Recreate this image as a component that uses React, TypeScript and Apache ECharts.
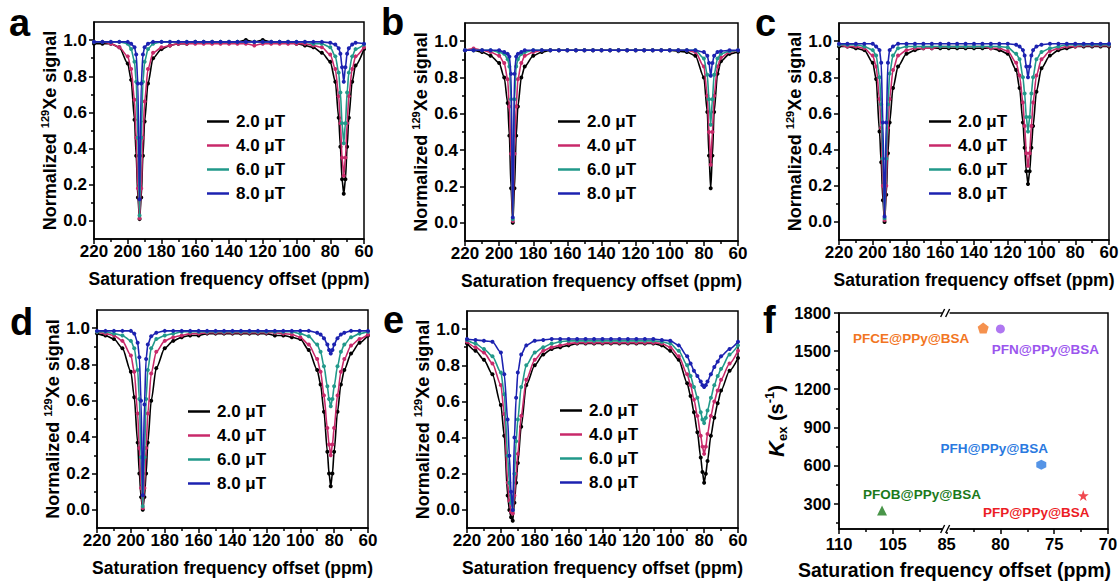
import React, { useEffect, useRef } from 'react';
import * as echarts from 'echarts';

const FONT = '"Liberation Sans", Arial, Helvetica, sans-serif';

// ---------- shared labels ----------
const FIELD_NAMES = ['2.0 μT', '4.0 μT', '6.0 μT', '8.0 μT'];
const FIELD_COLORS = ['#000000', '#c8296a', '#21998a', '#1c22b0'];
const X_TICK_LABELS = [60, 80, 100, 120, 140, 160, 180, 200, 220];
const X_MINOR_TICKS = [70, 90, 110, 130, 150, 170, 190, 210];
const Y_TICK_LABELS = [0, 0.2, 0.4, 0.6, 0.8, 1.0];
const Y_MINOR_TICKS = [0.1, 0.3, 0.5, 0.7, 0.9];

// ---------- panel a ----------
const xA = [220,215,210,205,200,198,196,195,194,193,192,191,190,188,185,180,175,170,165,160,155,150,145,140,135,130,125,120,115,110,105,100,95,90,85,80,77,75,74,73,72,71,70,69,67,65,60];
const aBlack = [0.98,0.98,0.98,0.96,0.87, 0.78,0.56,0.36,0.13,0.01,0.13,0.36,0.55,0.76, 0.90,0.95,0.97,0.98,0.98,0.99,0.99,0.99,0.99,0.99, 0.99,1.00,0.99,1.00,0.99,0.99,0.99,0.98,0.97,0.96, 0.93,0.88, 0.77,0.57,0.41,0.23,0.15,0.23,0.41,0.57,0.77,0.86,0.95];
const aPink = [0.99,0.99,0.98,0.96,0.91, 0.84,0.67,0.46,0.18,0.015,0.18,0.46,0.66,0.84, 0.93,0.96,0.97,0.98,0.98,0.98,0.98,0.98,0.98,0.98, 0.98,0.98,0.97,0.98,0.98,0.98,0.98,0.98,0.98,0.97, 0.96,0.92, 0.84,0.69,0.54,0.35,0.25,0.35,0.54,0.69,0.84,0.91,0.96];
const aTeal = [0.99,0.99,0.99,0.99,0.98, 0.95,0.88,0.77,0.46,0.03,0.46,0.77,0.88,0.95, 0.98,0.99,0.99,0.99,0.99,0.99,0.99,0.99,0.99,0.99, 0.99,0.99,0.99,0.99,0.99,0.99,0.99,0.99,0.99,0.98, 0.98,0.96, 0.91,0.82,0.71,0.54,0.43,0.54,0.71,0.82,0.91,0.95,0.975];
const aBlue = [0.99,0.99,0.99,0.99,0.99, 0.98,0.96,0.92,0.76,0.12,0.76,0.92,0.96,0.98, 0.99,0.99,0.99,0.99,0.99,0.99,0.99,0.99,0.99,0.99, 0.99,0.99,0.99,0.99,0.99,0.99,0.99,0.99,0.99,0.99, 0.99,0.985, 0.975,0.955,0.925,0.85,0.77,0.85,0.925,0.955,0.975,0.985,0.98];

// ---------- panel b ----------
const xB = [220,215,210,205,200,197,195,194,193,192,191,190,189,187,185,180,175,170,165,160,155,150,145,140,135,130,125,120,115,110,105,100,95,90,85,80,78,77,76,75,74,72,70,65,60];
const bBlack = [0.95,0.95,0.94,0.92,0.88, 0.80,0.66,0.48,0.19,0.00,0.19,0.48,0.64,0.80, 0.86,0.92,0.94,0.95,0.95,0.95,0.95,0.95,0.95,0.95, 0.95,0.95,0.95,0.95,0.95,0.95,0.95,0.95,0.945,0.94, 0.92, 0.80,0.61,0.37,0.19,0.37,0.61,0.82,0.89,0.93,0.94];
const bPink = [0.95,0.96,0.95,0.94,0.92, 0.88,0.79,0.64,0.38,0.01,0.38,0.64,0.79,0.88, 0.92,0.94,0.95,0.95,0.95,0.95,0.95,0.95,0.95,0.95, 0.95,0.95,0.95,0.95,0.95,0.95,0.95,0.95,0.95,0.95, 0.94, 0.86,0.70,0.50,0.32,0.50,0.70,0.86,0.91,0.94,0.95];
const bTeal = [0.95,0.95,0.95,0.95,0.94, 0.93,0.90,0.86,0.68,0.02,0.68,0.86,0.90,0.93, 0.94,0.95,0.95,0.95,0.95,0.95,0.95,0.95,0.95,0.95, 0.95,0.95,0.95,0.95,0.95,0.95,0.95,0.95,0.95,0.95, 0.95, 0.905,0.815,0.68,0.54,0.68,0.815,0.905,0.93,0.945,0.95];
const bBlue = [0.95,0.95,0.95,0.95,0.95, 0.94,0.93,0.915,0.82,0.03,0.82,0.915,0.93,0.94, 0.95,0.95,0.95,0.95,0.95,0.95,0.95,0.95,0.95,0.95, 0.95,0.95,0.95,0.95,0.95,0.95,0.95,0.95,0.95,0.95, 0.95, 0.94,0.92,0.88,0.81,0.88,0.92,0.94,0.945,0.95,0.95];

// ---------- panel c ----------
const xC = [220,215,210,205,200,198,196,195,194,193,192,191,190,188,185,180,175,170,165,160,155,150,145,140,135,130,125,120,115,113,111,110,109,108,107,106,105,103,100,95,90,85,80,75,70,65,60];
const cBlack = [0.97,0.97,0.96,0.95,0.88, 0.79,0.50,0.33,0.12,0.00,0.15,0.38,0.55,0.74, 0.86,0.93,0.95,0.96,0.96,0.96,0.96,0.96,0.96,0.96, 0.96,0.96,0.95,0.93,0.84, 0.74,0.55,0.41,0.28,0.21,0.28,0.41,0.53,0.72, 0.85,0.92,0.95,0.96,0.97,0.97,0.97,0.97,0.97];
const cPink = [0.98,0.97,0.97,0.96,0.92, 0.86,0.68,0.52,0.20,0.01,0.20,0.52,0.68,0.84, 0.92,0.95,0.96,0.96,0.96,0.97,0.97,0.97,0.97,0.97, 0.97,0.96,0.96,0.945,0.88, 0.81,0.66,0.53,0.38,0.31,0.38,0.53,0.66,0.81, 0.90,0.945,0.96,0.97,0.97,0.975,0.975,0.975,0.975];
const cTeal = [0.98,0.98,0.98,0.97,0.95, 0.92,0.80,0.65,0.35,0.02,0.35,0.65,0.82,0.92, 0.96,0.97,0.97,0.97,0.97,0.97,0.97,0.97,0.97,0.97, 0.97,0.97,0.97,0.965,0.93, 0.90,0.80,0.71,0.58,0.50,0.58,0.71,0.80,0.90, 0.94,0.96,0.97,0.98,0.98,0.98,0.98,0.98,0.98];
const cBlue = [0.985,0.985,0.985,0.985,0.985, 0.97,0.95,0.88,0.55,0.03,0.55,0.88,0.95,0.97, 0.985,0.985,0.985,0.985,0.985,0.985,0.985,0.985,0.985,0.985, 0.985,0.985,0.985,0.985,0.98, 0.97,0.95,0.92,0.86,0.80,0.86,0.92,0.95,0.97, 0.98,0.985,0.985,0.985,0.985,0.985,0.985,0.985,0.985];

// ---------- panel d ----------
const xD = [220,215,210,205,200,198,196,195,194,193,192,191,190,188,185,180,175,170,165,160,155,150,145,140,135,130,125,120,115,110,105,100,95,90,88,86,84,83,82,81,80,78,76,74,70,65,60];
const dBlack = [0.97,0.96,0.94,0.89,0.76, 0.62,0.37,0.20,0.07,0.00,0.07,0.20,0.37,0.60, 0.78,0.89,0.93,0.95,0.96,0.96,0.97,0.97,0.97,0.97, 0.97,0.97,0.97,0.97,0.96,0.96,0.95,0.94,0.88, 0.77,0.69,0.54,0.32,0.20,0.13,0.20,0.32,0.54,0.69,0.77,0.86,0.92,0.96];
const dPink = [0.98,0.97,0.96,0.93,0.85, 0.76,0.53,0.34,0.12,0.01,0.12,0.34,0.53,0.75, 0.87,0.93,0.95,0.96,0.97,0.97,0.975,0.975,0.975,0.975, 0.975,0.975,0.975,0.975,0.975,0.97,0.965,0.95,0.91, 0.83,0.76,0.63,0.45,0.36,0.30,0.36,0.45,0.63,0.76,0.83,0.905,0.94,0.965];
const dTeal = [0.98,0.98,0.97,0.96,0.93, 0.89,0.77,0.61,0.29,0.02,0.29,0.61,0.77,0.89, 0.94,0.96,0.97,0.98,0.98,0.98,0.98,0.98,0.98,0.98, 0.98,0.98,0.98,0.98,0.98,0.98,0.98,0.97,0.955, 0.91,0.87,0.79,0.68,0.61,0.57,0.61,0.68,0.79,0.87,0.91,0.95,0.97,0.98];
const dBlue = [0.985,0.985,0.985,0.985,0.985, 0.97,0.92,0.84,0.60,0.08,0.58,0.83,0.91,0.955, 0.975,0.985,0.985,0.985,0.985,0.985,0.985,0.985,0.985,0.985, 0.985,0.985,0.985,0.985,0.985,0.985,0.985,0.985,0.985, 0.975,0.965,0.945,0.91,0.88,0.86,0.88,0.91,0.945,0.965,0.975,0.985,0.985,0.985];

// ---------- panel e ----------
const xE = [220,215,210,205,200,198,196,195,194,193,192,191,190,188,185,180,175,170,165,160,155,150,145,140,135,130,125,120,115,110,105,100,95,90,88,86,84,82,81,80,79,78,76,74,72,70,65,60];
const eBlack = [0.92,0.88,0.83,0.75,0.58, 0.41,0.08,0.00,-0.04,-0.06,0.04,0.15,0.26,0.46, 0.69,0.80,0.86,0.89,0.90,0.91,0.92,0.92,0.92,0.92, 0.92,0.92,0.92,0.92,0.92,0.92,0.91,0.88,0.83, 0.70,0.63,0.54,0.43,0.29,0.21,0.15,0.20,0.27,0.41,0.51,0.59,0.66,0.77,0.84];
const ePink = [0.93,0.90,0.87,0.81,0.69, 0.53,0.15,0.05,-0.01,-0.02,0.08,0.20,0.31,0.52, 0.72,0.83,0.88,0.90,0.91,0.92,0.925,0.925,0.925,0.925, 0.925,0.925,0.925,0.925,0.925,0.925,0.92,0.90,0.85, 0.75,0.69,0.61,0.52,0.41,0.35,0.31,0.35,0.42,0.52,0.60,0.66,0.72,0.81,0.88];
const eTeal = [0.94,0.92,0.89,0.85,0.76, 0.64,0.30,0.15,0.04,0.00,0.20,0.38,0.50,0.68, 0.80,0.87,0.90,0.92,0.93,0.935,0.935,0.935,0.935,0.935, 0.935,0.935,0.935,0.935,0.935,0.935,0.93,0.92,0.88, 0.80,0.74,0.68,0.62,0.54,0.50,0.48,0.51,0.55,0.62,0.69,0.74,0.78,0.86,0.91];
const eBlue = [0.945,0.94,0.935,0.93,0.87, 0.75,0.50,0.30,0.10,0.00,0.40,0.62,0.76,0.86, 0.91,0.935,0.94,0.945,0.945,0.945,0.945,0.945,0.945,0.945, 0.945,0.945,0.945,0.945,0.945,0.945,0.94,0.935,0.91, 0.85,0.81,0.77,0.74,0.71,0.69,0.68,0.69,0.71,0.75,0.79,0.82,0.85,0.89,0.93];

// ---------- panel f ----------
const fNames = ['PFCE@PPy@BSA', 'PFN@PPy@BSA', 'PFH@PPy@BSA', 'PFP@PPy@BSA', 'PFOB@PPy@BSA'];
const fPpm = [81.6, 80.0, 76.2, 72.3, 106.0];
const fKex = [1682, 1675, 606, 363, 245];
const fColors = ['#f27522', '#9b55ee', '#2a79e0', '#ec1c24', '#1b7a1b'];
const F_X_TICK_PPM = [110, 105, 85, 80, 75, 70];
const F_Y_TICK_LABELS = [300, 600, 900, 1200, 1500, 1800];
const F_Y_MINOR = [150, 450, 750, 1050, 1350, 1650];
const F_Y_MIN = 100;
const F_Y_MAX = 1800;
// broken x axis: left segment 110..100, right segment 85..70
const F_LEFT_START = 110;
const F_RIGHT_START = 85;
const F_BREAK_U = 10;
const toU = (ppm: number) => (ppm > 92.5 ? F_LEFT_START - ppm : F_BREAK_U + (F_RIGHT_START - ppm));
const fromU = (u: number) => (u < F_BREAK_U ? F_LEFT_START - u : F_RIGHT_START - (u - F_BREAK_U));

// styles for panel f markers
const F_SYMBOLS = [
  'path://M50,0 L97.6,34.5 L79.4,90.5 L20.6,90.5 L2.4,34.5 Z',
  'circle',
  'path://M50,0 L93.3,25 L93.3,75 L50,100 L6.7,75 L6.7,25 Z',
  'path://M50,0 L61.8,35.1 L98.1,35.1 L68.8,56.7 L79.4,90.9 L50,69.6 L20.6,90.9 L31.2,56.7 L1.9,35.1 L38.2,35.1 Z',
  'triangle',
];
const F_SIZES = [11, 9, 10, 11, 10];
const F_LABEL_OFFSETS = [[-72, 11], [45, 21], [-47, -16], [-47, 17], [40, -16]];

const PANELS = [
  { letter: 'a', x: xA, ys: [aBlack, aPink, aTeal, aBlue], grid: { left: 94, top: 22, width: 270, height: 217 }, legendPos: { left: 202, top: 108 }, letterPos: [9, 23] },
  { letter: 'b', x: xB, ys: [bBlack, bPink, bTeal, bBlue], grid: { left: 465, top: 23, width: 273, height: 218 }, legendPos: { left: 553, top: 108 }, letterPos: [381, 22] },
  { letter: 'c', x: xC, ys: [cBlack, cPink, cTeal, cBlue], grid: { left: 839, top: 23, width: 270, height: 217 }, legendPos: { left: 924, top: 108 }, letterPos: [755, 23] },
  { letter: 'd', x: xD, ys: [dBlack, dPink, dTeal, dBlue], grid: { left: 97, top: 310, width: 271, height: 218 }, legendPos: { left: 183, top: 398 }, letterPos: [10, 322] },
  { letter: 'e', x: xE, ys: [eBlack, ePink, eTeal, eBlue], grid: { left: 467, top: 311, width: 271, height: 217 }, legendPos: { left: 555, top: 397 }, letterPos: [383, 320] },
];
const F_GRID = { left: 839, top: 313, width: 269, height: 216 };
const F_LETTER_POS = [763, 320];
const LETTER_FONT = `bold 38px ${FONT}`;

const txt = (size: number, extra: any = {}) => ({ fontFamily: FONT, fontWeight: 'bold', fontSize: size, color: '#000', ...extra });
const axisLineStyle = { color: '#000', width: 1.5 };
const gridStyle = { show: true, borderColor: '#000', borderWidth: 1.5, backgroundColor: 'transparent', outerBoundsMode: 'none', containLabel: false };

function buildOption() {
  const grid: any[] = [];
  const xAxis: any[] = [];
  const yAxis: any[] = [];
  const series: any[] = [];
  const legend: any[] = [];
  const graphic: any[] = [];

  PANELS.forEach((p, i) => {
    grid.push({ ...p.grid, ...gridStyle });
    xAxis.push({
      type: 'value', gridIndex: i, position: 'bottom', min: 60, max: 220, inverse: true,
      axisLine: { show: true, onZero: false, lineStyle: axisLineStyle },
      axisTick: { show: true, customValues: X_TICK_LABELS, length: 5, lineStyle: axisLineStyle },
      axisLabel: { customValues: X_TICK_LABELS, margin: 4, ...txt(17) },
      splitLine: { show: false },
      name: 'Saturation frequency offset (ppm)', nameLocation: 'middle', nameGap: 31,
      nameTextStyle: txt(17.5),
    });
    xAxis.push({
      type: 'value', gridIndex: i, position: 'bottom', min: 60, max: 220, inverse: true,
      axisLine: { show: false, onZero: false },
      axisTick: { show: true, customValues: X_MINOR_TICKS, length: 3, lineStyle: axisLineStyle },
      axisLabel: { show: false }, splitLine: { show: false },
    });
    yAxis.push({
      type: 'value', gridIndex: i, position: 'left', min: -0.1, max: 1.1,
      axisLine: { show: true, onZero: false, lineStyle: axisLineStyle },
      axisTick: { show: true, customValues: Y_TICK_LABELS, length: 5, lineStyle: axisLineStyle },
      axisLabel: { customValues: Y_TICK_LABELS, margin: 7, formatter: (v: number) => v.toFixed(1), ...txt(17) },
      splitLine: { show: false },
      name: '{n|Normalized }{s|129}{n|Xe signal}', nameLocation: 'middle', nameGap: 25,
      nameTextStyle: {
        ...txt(18),
        rich: {
          n: txt(18, { lineHeight: 22 }),
          s: txt(11, { lineHeight: 14, verticalAlign: 'top' }),
        },
      },
    });
    yAxis.push({
      type: 'value', gridIndex: i, position: 'left', offset: 0, min: -0.1, max: 1.1,
      axisLine: { show: false, onZero: false },
      axisTick: { show: true, customValues: Y_MINOR_TICKS, length: 3, lineStyle: axisLineStyle },
      axisLabel: { show: false }, splitLine: { show: false },
    });
    p.ys.forEach((ys, k) => {
      series.push({
        type: 'line', name: FIELD_NAMES[k], xAxisIndex: 2 * i, yAxisIndex: 2 * i,
        data: p.x.map((x, j) => [x, ys[j]]),
        smooth: 0.25, smoothMonotone: 'x',
        symbol: 'circle', symbolSize: 4, showSymbol: true,
        lineStyle: { color: FIELD_COLORS[k], width: 1.6 },
        itemStyle: { color: FIELD_COLORS[k] },
        emphasis: { disabled: true }, silent: true, z: 2 + k,
      });
    });
    legend.push({
      data: FIELD_NAMES, orient: 'vertical', left: p.legendPos.left, top: p.legendPos.top,
      icon: 'rect', itemWidth: 22, itemHeight: 2.5, itemGap: 7, selectedMode: false,
      textStyle: txt(17, { padding: [0, 0, 0, 2] }),
    });
    graphic.push({
      type: 'text', x: p.letterPos[0], y: p.letterPos[1],
      style: { text: p.letter, font: LETTER_FONT, fill: '#000', verticalAlign: 'middle', textVerticalAlign: 'middle' },
    });
  });

  // ---- panel f ----
  const gi = PANELS.length;
  const xi = xAxis.length;
  grid.push({ ...F_GRID, ...gridStyle });
  const fTickU = F_X_TICK_PPM.map(toU);
  const fMinorU = fTickU.slice(0, -1).map((u, j) => (u + fTickU[j + 1]) / 2);
  xAxis.push({
    type: 'value', gridIndex: gi, position: 'bottom', min: toU(F_LEFT_START), max: toU(70),
    axisLine: { show: true, onZero: false, lineStyle: axisLineStyle },
    axisTick: { show: true, customValues: fTickU, length: 5, lineStyle: axisLineStyle },
    axisLabel: { customValues: fTickU, margin: 6, formatter: (u: number) => String(Math.round(fromU(u))), ...txt(16.5) },
    splitLine: { show: false },
    name: 'Saturation frequency offset (ppm)', nameLocation: 'middle', nameGap: 31,
    nameTextStyle: txt(19.5, { padding: [0, 38, 0, 0] }),
  });
  xAxis.push({
    type: 'value', gridIndex: gi, position: 'bottom', min: toU(F_LEFT_START), max: toU(70),
    axisLine: { show: false, onZero: false },
    axisTick: { show: true, customValues: fMinorU, length: 3, lineStyle: axisLineStyle },
    axisLabel: { show: false }, splitLine: { show: false },
  });
  yAxis.push({
    type: 'value', gridIndex: gi, position: 'left', min: F_Y_MIN, max: F_Y_MAX,
    axisLine: { show: true, onZero: false, lineStyle: axisLineStyle },
    axisTick: { show: true, customValues: F_Y_TICK_LABELS, length: 5, lineStyle: axisLineStyle },
    axisLabel: { customValues: F_Y_TICK_LABELS, margin: 8, formatter: (v: number) => String(v), ...txt(16.5) },
    splitLine: { show: false },
    name: '{k|K}{b|ex}{n| (s}{p|-1}{n|)}', nameLocation: 'middle', nameGap: 50,
    nameTextStyle: {
      ...txt(20),
      rich: {
        k: txt(22, { fontStyle: 'italic', lineHeight: 26 }),
        b: txt(13, { lineHeight: 15, verticalAlign: 'bottom' }),
        n: txt(20, { lineHeight: 26 }),
        p: txt(13, { lineHeight: 15, verticalAlign: 'top' }),
      },
    },
  });
  yAxis.push({
    type: 'value', gridIndex: gi, position: 'left', offset: 0, min: F_Y_MIN, max: F_Y_MAX,
    axisLine: { show: false, onZero: false },
    axisTick: { show: true, customValues: F_Y_MINOR, length: 3, lineStyle: axisLineStyle },
    axisLabel: { show: false }, splitLine: { show: false },
  });
  fNames.forEach((name, i) => {
    series.push({
      type: 'scatter', name, xAxisIndex: xi, yAxisIndex: xi,
      data: [[toU(fPpm[i]), fKex[i]]],
      symbol: F_SYMBOLS[i], symbolSize: F_SIZES[i],
      itemStyle: { color: fColors[i] },
      label: {
        show: true, formatter: name, position: 'inside', offset: F_LABEL_OFFSETS[i],
        ...txt(13.5, { color: fColors[i], textBorderWidth: 0, textBorderColor: 'transparent', opacity: 1 }),
      },
      emphasis: { disabled: true }, silent: true,
    });
  });
  series.push({
    type: 'custom', xAxisIndex: xi, yAxisIndex: xi, clip: false, silent: true, z: 10,
    data: [[F_BREAK_U, F_Y_MIN], [F_BREAK_U, F_Y_MAX]],
    renderItem: (_params: any, api: any) => {
      const p = api.coord([api.value(0), api.value(1)]);
      return {
        type: 'group',
        children: [
          { type: 'rect', shape: { x: p[0] - 4, y: p[1] - 3, width: 7, height: 6 }, style: { fill: '#fff' } },
          { type: 'line', shape: { x1: p[0] - 6, y1: p[1] + 4, x2: p[0] - 2, y2: p[1] - 4 }, style: { stroke: '#000', lineWidth: 1.4 } },
          { type: 'line', shape: { x1: p[0] - 1, y1: p[1] + 4, x2: p[0] + 3, y2: p[1] - 4 }, style: { stroke: '#000', lineWidth: 1.4 } },
        ],
      };
    },
  });
  graphic.push({
    type: 'text', x: F_LETTER_POS[0], y: F_LETTER_POS[1],
    style: { text: 'f', font: LETTER_FONT, fill: '#000', verticalAlign: 'middle', textVerticalAlign: 'middle' },
  });

  return { animation: false, backgroundColor: '#fff', grid, xAxis, yAxis, series, legend, graphic };
}

export default function App() {
  const ref = useRef<HTMLDivElement>(null);
  useEffect(() => {
    const chart = echarts.init(ref.current!, null, { renderer: 'svg' });
    chart.setOption(buildOption() as any);
    return () => chart.dispose();
  }, []);
  return <div ref={ref} style={{ position: 'fixed', left: 0, top: 0, width: 1120, height: 583, background: '#fff' }} />;
}
